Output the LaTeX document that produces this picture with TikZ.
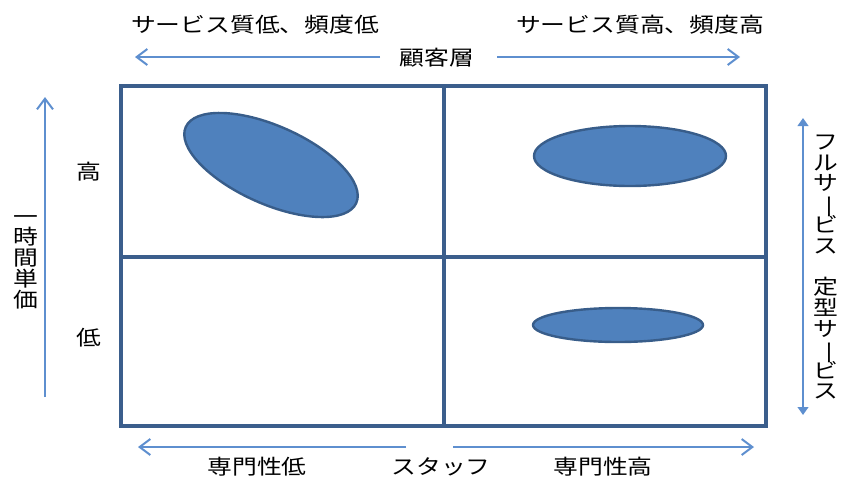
\documentclass[tikz,border=0pt]{standalone}
\usepackage{fontspec}
\newfontfamily\jp[FakeStretch=1.2]{Noto Sans CJK JP}
\usetikzlibrary{arrows.meta,shapes.geometric}
\definecolor{framec}{HTML}{3B5E8C}
\definecolor{arrc}{HTML}{5E8FCF}
\definecolor{ellfill}{HTML}{4F81BD}
\definecolor{elldraw}{HTML}{385D8A}
\newcommand\tatebo{\makebox[1em]{\smash{\rotatebox[origin=c]{-90}{ー}}}}
\begin{document}
\begin{tikzpicture}[x=0.75pt,y=-0.75pt,
  lbl/.style={font=\jp\fontsize{15.5}{15.5}\selectfont, inner sep=0pt, text=black},
  vlbl/.style={lbl, align=center, font=\jp\fontsize{15.5}{15.6}\selectfont},
  grid/.style={draw=framec, line width=2.3pt},
  axis/.style={draw=arrc, line width=1.5pt, -{Straight Barb[length=8pt,width=12pt]}},
  axis2/.style={draw=arrc, line width=1.5pt, {Triangle[length=6pt,width=8pt]}-{Triangle[length=6pt,width=8pt]}},
  blob/.style={ellipse, fill=ellfill, draw=elldraw, line width=1.8pt, inner sep=0pt}]
\useasboundingbox (0,0) rectangle (841,479);
% frame
\coordinate (tl) at (121,86);
\coordinate (br) at (766,426);
\coordinate (mt) at (444,86);
\coordinate (mb) at (444,426);
\coordinate (ml) at (121,257);
\coordinate (mr) at (766,257);
\draw[grid] (tl) rectangle (br);
\draw[grid] (mt) -- (mb);
\draw[grid] (ml) -- (mr);
% ellipses
\node[blob, minimum width=140pt, minimum height=58.5pt, rotate=-24] (e1) at (271,165) {};
\node[blob, minimum width=144pt, minimum height=45pt] (e2) at (630,156) {};
\node[blob, minimum width=127.5pt, minimum height=25.5pt] (e3) at (618,325) {};
% top
\node[lbl] (tq1) at (255,25) {サービス質低、頻度低};
\node[lbl] (tq2) at (640,25) {サービス質高、頻度高};
\node[lbl] (tcust) at (437,58) {顧客層};
\coordinate (a1s) at (380,57);
\coordinate (a1e) at (135,57);
\coordinate (a2s) at (497,57);
\coordinate (a2e) at (740,57);
\draw[axis] (a1s) -- (a1e);
\draw[axis] (a2s) -- (a2e);
% bottom
\node[lbl] (bl) at (257,467) {専門性低};
\node[lbl] (bs) at (441,467) {スタッフ};
\node[lbl] (bh) at (603,467) {専門性高};
\coordinate (b1s) at (406,447);
\coordinate (b1e) at (138,447);
\coordinate (b2s) at (453,447);
\coordinate (b2e) at (754,447);
\draw[axis] (b1s) -- (b1e);
\draw[axis] (b2s) -- (b2e);
% left
\node[lbl] (lh) at (89,172) {高};
\node[lbl] (ll) at (89,338) {低};
\node[vlbl] (lv) at (26,262) {一\\時\\間\\単\\価};
\coordinate (ls) at (45,397);
\coordinate (le) at (45,97);
\draw[axis] (ls) -- (le);
% right
\coordinate (rs) at (803,118);
\coordinate (re) at (803,415);
\draw[axis2] (rs) -- (re);
\node[vlbl] (rv) at (826,267) {フ\\ル\\サ\\\tatebo\\ビ\\ス\\\mbox{}\\定\\型\\サ\\\tatebo\\ビ\\ス};
\end{tikzpicture}
\end{document}
